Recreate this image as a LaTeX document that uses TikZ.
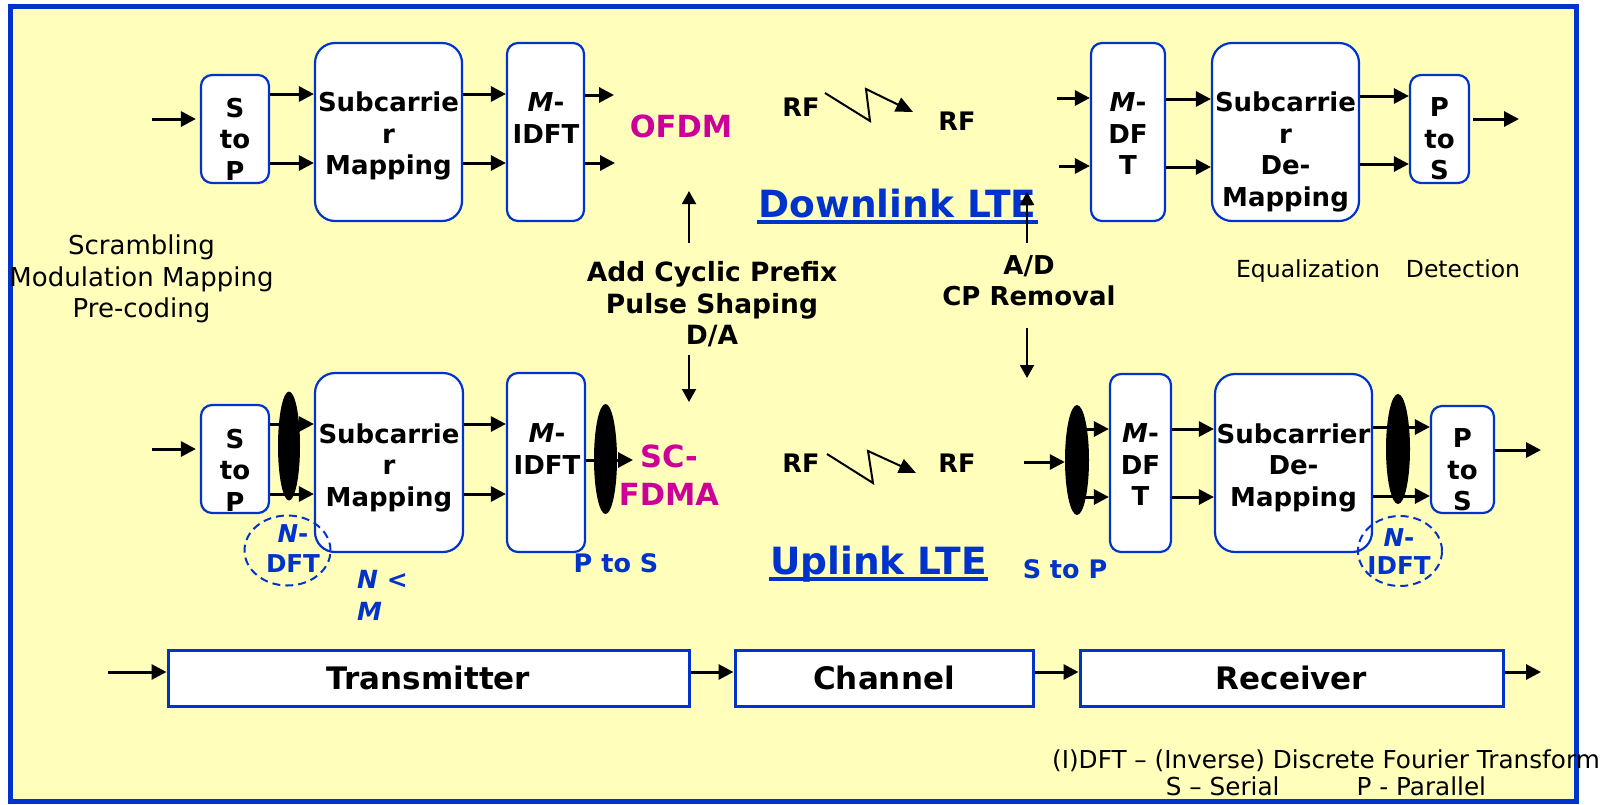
\documentclass[tikz,border=0pt]{standalone}
\usepackage{fontspec}
\setmainfont{DejaVu Sans}
\usetikzlibrary{arrows.meta,shapes.geometric,calc}

\definecolor{panel}{HTML}{FFFFBB}
\definecolor{lteblue}{HTML}{0033CC}
\definecolor{ltemag}{HTML}{CC0099}
\newcommand{\setfs}[2]{\fontsize{#1}{#2}\selectfont}

\begin{document}
\begin{tikzpicture}[x=1pt,y=-1pt,
  blk/.style={draw=lteblue, line width=2.2pt, fill=white, inner sep=0pt},
  rsmall/.style={blk, rounded corners=11pt},
  rbig/.style={blk, rounded corners=20pt},
  sq/.style={draw=lteblue, line width=3pt, fill=white, inner sep=0pt, font=\setfs{31}{37}\bfseries},
  btxt/.style={inner sep=0pt, anchor=north, align=center, font=\setfs{26}{31.5}\bfseries},
  ttl/.style={inner sep=0pt, anchor=base, text=lteblue, font=\setfs{37.5}{45}\bfseries},
  bluelbl/.style={inner sep=0pt, anchor=base, text=lteblue, font=\setfs{25.5}{30}\bfseries},
  magtxt/.style={inner sep=0pt, text=ltemag, align=center, font=\setfs{30.5}{38.5}\bfseries},
  rflbl/.style={inner sep=0pt, font=\setfs{25.5}{30}\bfseries},
  plain/.style={inner sep=0pt, align=center, font=\setfs{26}{31.5}},
  arr/.style={line width=3pt, -{Triangle[length=15pt,width=15pt]}},
  thinarr/.style={line width=2pt, -{Triangle[length=13pt,width=14pt]}},
  zig/.style={line width=2pt, line join=miter, -{Triangle[length=17pt,width=15pt]}},
  blob/.style={ellipse, fill=black, inner sep=0pt},
  dashring/.style={ellipse, draw=lteblue, line width=2pt, dash pattern=on 8pt off 5pt, inner sep=0pt},
  uline/.style={lteblue, line width=4.5pt}
]
\useasboundingbox (0,0) rectangle (1617,804);
\fill[white] (0,0) rectangle (1617,804);
\path[fill=panel, draw=lteblue, line width=5pt] (10,6) rectangle (1576,801);

% ---------------- Downlink (OFDM) chain ----------------
\node[rsmall, minimum width=68pt, minimum height=108pt] (stpD) at (235,129) {};
\node[btxt] (stpDt) at (235,97.5) {S\\to\\P};
\node[rbig, minimum width=147pt, minimum height=178pt] (smD) at (388.5,132) {};
\node[btxt] (smDt) at (388.5,92) {Subcarrie\\r\\Mapping};
\node[rsmall, minimum width=77pt, minimum height=178pt] (idftD) at (545.5,132) {};
\node[btxt] (idftDt) at (546,92.5) {\textit{M}-\\IDFT};
\node[rsmall, minimum width=74pt, minimum height=178pt] (mdftD) at (1128,132) {};
\node[btxt] (mdftDt) at (1128,92.5) {\textit{M}-\\DF\\T};
\node[rbig, minimum width=147pt, minimum height=178pt] (sdmD) at (1285.5,132) {};
\node[btxt] (sdmDt) at (1285.5,92) {Subcarrie\\r\\De-\\Mapping};
\node[rsmall, minimum width=59pt, minimum height=108pt] (ptsD) at (1439.5,129) {};
\node[btxt] (ptsDt) at (1439.5,97.5) {P\\to\\S};

\coordinate (inD) at (152,119);
\draw[arr, shorten >=4pt] (inD) -- (stpD.west |- inD);
\draw[arr] (stpD.east |- 0,94) -- (smD.west |- 0,94);
\draw[arr] (stpD.east |- 0,163) -- (smD.west |- 0,163);
\draw[arr] (smD.east |- 0,94) -- (idftD.west |- 0,94);
\draw[arr] (smD.east |- 0,163) -- (idftD.west |- 0,163);
\coordinate (oD1) at (614,95);
\coordinate (oD2) at (615,163);
\draw[arr] (idftD.east |- oD1) -- (oD1);
\draw[arr] (idftD.east |- oD2) -- (oD2);

\node[magtxt] (ofdm) at (681,126) {OFDM};

\node[rflbl] (rf1D) at (801,107) {RF};
\node[rflbl] (rf2D) at (957,121) {RF};
\draw[zig] (825,93) -- (870,121) -- (866,89) -- (913,112);

\coordinate (iD1) at (1057,98);
\coordinate (iD2) at (1059,166);
\draw[arr] (iD1) -- (mdftD.west |- iD1);
\draw[arr] (iD2) -- (mdftD.west |- iD2);
\draw[arr] (mdftD.east |- 0,99) -- (sdmD.west |- 0,99);
\draw[arr] (mdftD.east |- 0,167) -- (sdmD.west |- 0,167);
\draw[arr] (sdmD.east |- 0,96) -- (ptsD.west |- 0,96);
\draw[arr] (sdmD.east |- 0,164) -- (ptsD.west |- 0,164);
\coordinate (outD) at (1519,119);
\draw[arr, shorten <=3pt] (ptsD.east |- outD) -- (outD);

\node[ttl] (dl) at (897.5,217) {Downlink LTE};
\draw[uline] ([xshift=-2pt,yshift=-5pt]dl.base west) -- ([xshift=2pt,yshift=-5pt]dl.base east);

% ---------------- annotations between the chains ----------------
\node[plain, anchor=north] (pre) at (141.5,235) {Scrambling\\Modulation Mapping\\Pre-coding};

\node[btxt, font=\setfs{26.5}{31.5}\bfseries] (cp) at (712,261.5) {Add Cyclic Prefix\\Pulse Shaping\\D/A};
\draw[thinarr] ([xshift=-23pt]cp.north |- 0,243) -- ([xshift=-23pt]cp.north |- 0,191);
\draw[thinarr] ([xshift=-23pt]cp.south |- 0,355) -- ([xshift=-23pt]cp.south |- 0,402);

\node[btxt, font=\setfs{26}{30.5}\bfseries] (ad) at (1029,255.5) {A/D\\CP Removal};
\draw[thinarr] ([xshift=-2pt]ad.north |- 0,243) -- ([xshift=-2pt]ad.north |- 0,192);
\draw[thinarr] ([xshift=-2pt]ad.south |- 0,328) -- ([xshift=-2pt]ad.south |- 0,378);

\node[inner sep=0pt, anchor=base, font=\setfs{23.5}{28}] (eq) at (1308,277) {Equalization};
\node[inner sep=0pt, anchor=base, font=\setfs{23.5}{28}] (det) at (1463,277) {Detection};

% ---------------- Uplink (SC-FDMA) chain ----------------
\node[rsmall, minimum width=68pt, minimum height=108pt] (stpU) at (235,459) {};
\node[btxt] (stpUt) at (235,428.5) {S\\to\\P};
\node[rbig, minimum width=148pt, minimum height=179pt] (smU) at (389,462.5) {};
\node[btxt] (smUt) at (389,423.5) {Subcarrie\\r\\Mapping};
\node[rsmall, minimum width=78pt, minimum height=179pt] (idftU) at (546,462.5) {};
\node[btxt] (idftUt) at (547,423.5) {\textit{M}-\\IDFT};
\node[rsmall, minimum width=61pt, minimum height=178pt] (mdftU) at (1140.5,463) {};
\node[btxt] (mdftUt) at (1140.5,423.5) {\textit{M}-\\DF\\T};
\node[rbig, minimum width=157pt, minimum height=178pt] (sdmU) at (1293.5,463) {};
\node[btxt] (sdmUt) at (1293.5,423.5) {Subcarrier\\De-\\Mapping};
\node[rsmall, minimum width=63pt, minimum height=107pt] (ptsU) at (1462.5,459.5) {};
\node[btxt] (ptsUt) at (1462.5,428.5) {P\\to\\S};

\coordinate (inU) at (152,449);
\draw[arr, shorten >=4pt] (inU) -- (stpU.west |- inU);
\draw[arr] (stpU.east |- 0,424) -- (smU.west |- 0,424);
\draw[arr] (stpU.east |- 0,494) -- (smU.west |- 0,494);
\draw[arr] (smU.east |- 0,424) -- (idftU.west |- 0,424);
\draw[arr] (smU.east |- 0,494) -- (idftU.west |- 0,494);
\coordinate (scIn) at (633,460);
\draw[arr] (idftU.east |- scIn) -- (scIn);

\node[magtxt, anchor=north] (scfdma) at (669,444.5) {SC-\\FDMA};

\node[rflbl] (rf1U) at (801,463) {RF};
\node[rflbl] (rf2U) at (957,463) {RF};
\draw[zig] (827,454) -- (873,483) -- (868,451) -- (916,473);

% parallel bundles (the lines run underneath them)
\node[blob, minimum width=24pt, minimum height=110pt] (e3) at (1077,460) {};
\coordinate (rxIn) at (1024,462);
\draw[arr] (rxIn) -- (e3.west |- rxIn);
\draw[arr] (e3.center |- 0,429) -- (mdftU.west |- 0,429);
\draw[arr] (e3.center |- 0,497) -- (mdftU.west |- 0,497);
\draw[arr] (mdftU.east |- 0,429) -- (sdmU.west |- 0,429);
\draw[arr] (mdftU.east |- 0,497) -- (sdmU.west |- 0,497);
\draw[arr] (sdmU.east |- 0,427) -- (ptsU.west |- 0,427);
\draw[arr] (sdmU.east |- 0,496) -- (ptsU.west |- 0,496);
\coordinate (outU) at (1541,450);
\draw[arr] (ptsU.east |- outU) -- (outU);

\node[blob, minimum width=22pt, minimum height=109pt] (e1) at (289,446) {};
\node[blob, minimum width=23pt, minimum height=110pt] (e2) at (605.5,459) {};
\node[blob, minimum width=24pt, minimum height=110pt] (e4) at (1398,449) {};

% DFT spreading / despreading
\node[dashring, minimum width=86pt, minimum height=70pt] (d1) at (287.5,550.5) {};
\node[btxt, text=lteblue, font=\setfs{24.6}{30}\bfseries] (d1t) at (293,524.5) {\textit{N}-\\DFT};
\node[dashring, minimum width=84pt, minimum height=70pt] (d2) at (1400,551) {};
\node[btxt, text=lteblue, font=\setfs{24.6}{28.5}\bfseries] (d2t) at (1399,528) {\textit{N}-\\IDFT};

\node[inner sep=0pt, anchor=north west, align=left, text=lteblue, font=\setfs{25}{32}\bfseries\itshape] (nm) at (357,570) {N <\\M};
\node[bluelbl] (pts) at (616,572.5) {P to S};
\node[bluelbl] (stp) at (1065,578.5) {S to P};

\node[ttl] (ul) at (878.5,574) {Uplink LTE};
\draw[uline] ([xshift=-1pt,yshift=-5pt]ul.base west) -- ([xshift=1pt,yshift=-5pt]ul.base east);

% ---------------- overall link ----------------
\node[sq, minimum width=521pt, minimum height=56pt] (tx) at (428.5,678) {Transmitter};
\node[sq, minimum width=298pt, minimum height=56pt] (ch) at (884,678) {Channel};
\node[sq, minimum width=423pt, minimum height=56pt] (rx) at (1291.5,678) {Receiver};
\coordinate (inB) at (108,672);
\coordinate (outB) at (1541,672);
\draw[arr] (inB) -- (tx.west |- inB);
\draw[arr] (tx.east |- inB) -- (ch.west |- inB);
\draw[arr] (ch.east |- inB) -- (rx.west |- inB);
\draw[arr] (rx.east |- outB) -- (outB);

% legend
\node[inner sep=0pt, anchor=north, align=center, font=\setfs{24.7}{27}] (legend) at (1326,749.5)
  {(I)DFT – (Inverse) Discrete Fourier Transform\\S – Serial\hspace{77pt}P - Parallel};
\end{tikzpicture}
\end{document}
